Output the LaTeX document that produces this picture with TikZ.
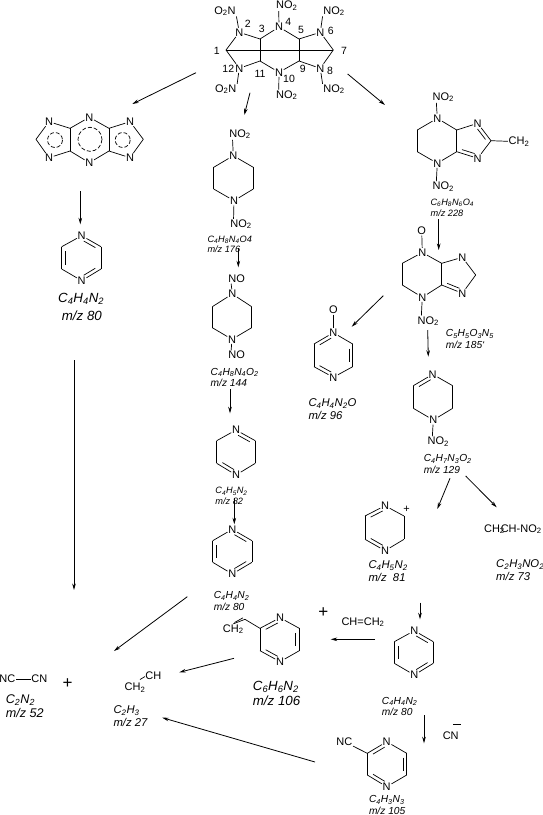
\documentclass[tikz,border=0pt]{standalone}
\usepackage{fontspec}
\setmainfont{Liberation Sans}
\usetikzlibrary{calc,arrows.meta}
\newcommand{\subs}[1]{\textsubscript{#1}}
% inner line of a double bond, on the right of a -> b
\newcommand{\dbond}[2]{\draw[bond] ($(#1)!.2!(#2)!-3.6pt!90:(#2)$) -- ($(#1)!.8!(#2)!-3.6pt!-90:(#1)$);}
\begin{document}
\begin{tikzpicture}[x=1pt,y=-1pt,
    bond/.style={line width=0.7pt},
    arr/.style={line width=0.8pt, -{Stealth[length=6.5pt,width=3.6pt]}},
    atm/.style={font=\fontsize{11}{12}\selectfont, inner sep=0.6pt},
    num/.style={font=\fontsize{10.5}{12}\selectfont, inner sep=0pt},
    fa/.style={font=\fontsize{9.2}{10.6}\selectfont\itshape, align=left, anchor=west, inner sep=0pt},
    fb/.style={font=\fontsize{10.2}{11.4}\selectfont\itshape, align=left, anchor=west, inner sep=0pt},
    fc/.style={font=\fontsize{11.3}{12.6}\selectfont\itshape, align=left, anchor=west, inner sep=0pt},
    fd/.style={font=\fontsize{13.3}{14.6}\selectfont\itshape, align=left, anchor=west, inner sep=0pt},
    ring/.style={line width=0.7pt, dash pattern=on 4pt off 2pt},
    pls/.style={font=\fontsize{17}{17}\selectfont, inner sep=0pt}]
  \useasboundingbox (0,0) rectangle (543,815);
  % cage at the top
  \node[atm] (a2) at (239.3,32.3) {N}; \node[atm] (a4) at (279,27) {N}; \node[atm] (a6) at (320.3,32.3) {N};
  \node[atm] (a12) at (239.3,68.3) {N}; \node[atm] (a10) at (279,72.3) {N}; \node[atm] (a8) at (320.3,68.3) {N};
  \coordinate (a1) at (226,50); \coordinate (a7) at (333.3,50);
  \coordinate (a3) at (260,39); \coordinate (a5) at (299,39);
  \coordinate (a11) at (260,61); \coordinate (a9) at (299,61);
  \node[atm] (ano2) at (225,11) {O\subs{2}N}; \node[atm] (ano4) at (286.7,5.7) {NO\subs{2}};
  \node[atm] (ano6) at (334,11) {NO\subs{2}}; \node[atm] (ano12) at (225.7,89.3) {O\subs{2}N};
  \node[atm] (ano10) at (286.7,95) {NO\subs{2}}; \node[atm] (ano8) at (334,89.3) {NO\subs{2}};
  \foreach \a/\b in {a1/a2,a2/a3,a3/a4,a4/a5,a5/a6,a6/a7,a7/a8,a8/a9,a9/a10,a10/a11,a11/a12,a12/a1,a1/a7,a3/a11,a5/a9}
    \draw[bond] (\a) -- (\b);
  \draw[bond] (a2) -- (ano2.south east); \draw[bond] (a4) -- ([xshift=3.5pt]ano4.south west);
  \draw[bond] (a6) -- (ano6.south west); \draw[bond] (a12) -- (ano12.north east);
  \draw[bond] (a10) -- ([xshift=3.5pt]ano10.north west); \draw[bond] (a8) -- (ano8.north west);
  \node[num] (l1) at (216.7,50.7) {1}; \node[num] (l2) at (247.7,24.3) {2}; \node[num] (l3) at (261.7,29.3) {3};
  \node[num] (l4) at (288.3,21.7) {4}; \node[num] (l5) at (301,30) {5}; \node[num] (l6) at (330.7,30.7) {6};
  \node[num] (l7) at (344,51) {7}; \node[num] (l8) at (330,71) {8}; \node[num] (l9) at (302.7,69) {9};
  \node[num] (l10) at (289,79.3) {10}; \node[num] (l11) at (260,74) {11}; \node[num] (l12) at (228.3,69.3) {12};
  % tricycle on the left
  \node[atm] (b1) at (49,121.7) {N}; \node[atm] (b2) at (49,157.7) {N}; \node[atm] (b3) at (89.3,117.3) {N};
  \node[atm] (b4) at (89.3,162.7) {N}; \node[atm] (b5) at (130,121.7) {N}; \node[atm] (b6) at (130,157.7) {N};
  \coordinate (b7) at (36,139.3); \coordinate (b8) at (70,128.3); \coordinate (b9) at (70,151);
  \coordinate (b10) at (109,128.3); \coordinate (b11) at (109,151); \coordinate (b12) at (143.3,139.3);
  \foreach \a/\b in {b7/b1,b1/b8,b8/b3,b3/b10,b10/b5,b5/b12,b12/b6,b6/b11,b11/b4,b4/b9,b9/b2,b2/b7,b8/b9,b10/b11}
    \draw[bond] (\a) -- (\b);
  \draw[ring] (55,140) circle (7.5);
  \draw[ring] (90,139.3) circle (12);
  \draw[ring] (122.7,140) circle (7.5);
  % pyrazine on the left
  \node[atm] (c1) at (81.7,235.7) {N}; \node[atm] (c2) at (81.7,280.7) {N};
  \coordinate (c3) at (61.7,246.7); \coordinate (c4) at (61.7,269); \coordinate (c5) at (101,246.7); \coordinate (c6) at (101,269);
  \foreach \a/\b in {c1/c5,c5/c6,c6/c2,c2/c4,c4/c3,c3/c1} \draw[bond] (\a) -- (\b);
  \dbond{c1}{c5} \dbond{c6}{c2} \dbond{c4}{c3}
  \node[fd,font=\fontsize{13.3}{17.5}\selectfont\itshape] (fc) at (58,307) {C\subs{4}H\subs{4}N\subs{2}\\\ m/z 80};
  % first piperazine
  \node[atm] (d1) at (233.3,155.7) {N}; \node[atm] (d2) at (234,200.7) {N};
  \coordinate (d3) at (213.7,167.3); \coordinate (d4) at (213.7,189); \coordinate (d5) at (253.3,167.3); \coordinate (d6) at (253.3,189);
  \node[atm] (dno1) at (240,134.3) {NO\subs{2}}; \node[atm] (dno2) at (241,224.3) {NO\subs{2}};
  \foreach \a/\b in {d1/d5,d5/d6,d6/d2,d2/d4,d4/d3,d3/d1} \draw[bond] (\a) -- (\b);
  \draw[bond] (d1) -- ([xshift=4pt]dno1.south west); \draw[bond] (d2) -- ([xshift=4pt]dno2.north west);
  \node[fa] (fd) at (207.3,244.3) {C\subs{4}H\subs{8}N\subs{4}O4\\m/z 176};
  % second piperazine
  \node[atm] (e1) at (232.3,294) {N}; \node[atm] (e2) at (232,339.3) {N};
  \coordinate (e3) at (212.3,306.7); \coordinate (e4) at (212.3,327.7); \coordinate (e5) at (251.7,306.7); \coordinate (e6) at (251.7,327.7);
  \node[atm] (eno1) at (236.7,279) {NO}; \node[atm] (eno2) at (236.7,355) {NO};
  \foreach \a/\b in {e1/e5,e5/e6,e6/e2,e2/e4,e4/e3,e3/e1} \draw[bond] (\a) -- (\b);
  \draw[bond] (e1) -- ([xshift=3.5pt]eno1.south west); \draw[bond] (e2) -- ([xshift=3.5pt]eno2.north west);
  \node[fb] (fe) at (210.5,377.5) {C\subs{4}H\subs{8}N\subs{4}O\subs{2}\\m/z 144};
  % dihydropyrazine, middle column
  \node[atm] (f1) at (236,430) {N}; \node[atm] (f2) at (236,475) {N};
  \coordinate (f3) at (216.7,440.7); \coordinate (f4) at (216.7,463.3); \coordinate (f5) at (255.3,440.7); \coordinate (f6) at (255.3,463.3);
  \foreach \a/\b in {f1/f5,f5/f6,f6/f2,f2/f4,f4/f3,f3/f1} \draw[bond] (\a) -- (\b);
  \dbond{f1}{f5} \dbond{f2}{f4}
  \node[fa] (ff) at (215.2,496) {C\subs{4}H\subs{5}N\subs{2}\\m/z 82};
  % pyrazine, middle column
  \node[atm] (g1) at (232.3,529.3) {N}; \node[atm] (g2) at (232.3,574) {N};
  \coordinate (g3) at (212.7,540.7); \coordinate (g4) at (212.7,562.3); \coordinate (g5) at (252,540.7); \coordinate (g6) at (252,562.3);
  \foreach \a/\b in {g1/g5,g5/g6,g6/g2,g2/g4,g4/g3,g3/g1} \draw[bond] (\a) -- (\b);
  \dbond{g1}{g5} \dbond{g6}{g2} \dbond{g4}{g3}
  \node[fb] (fg) at (213.6,601) {C\subs{4}H\subs{4}N\subs{2}\\m/z 80};
  % bicycle, top right
  \node[atm] (h1) at (437.3,118.3) {N}; \node[atm] (h2) at (437.3,163.3) {N}; \node[atm] (h3) at (477.7,123.3) {N}; \node[atm] (h4) at (477.7,158.3) {N};
  \coordinate (h5) at (417.3,130); \coordinate (h6) at (417.3,151.7); \coordinate (h7) at (456.7,130); \coordinate (h8) at (456.7,151.7); \coordinate (h9) at (491,140.7);
  \node[atm] (hno1) at (443.3,97.3) {NO\subs{2}}; \node[atm] (hno2) at (443.3,186.7) {NO\subs{2}};
  \node[atm] (hch) at (519,141.7) {CH\subs{2}};
  \foreach \a/\b in {h1/h7,h7/h3,h3/h9,h9/h4,h4/h8,h8/h2,h2/h6,h6/h5,h5/h1,h7/h8,h9/hch} \draw[bond] (\a) -- (\b);
  \dbond{h3}{h9} \dbond{h4}{h8}
  \draw[bond] (h1) -- ([xshift=4.5pt]hno1.south west); \draw[bond] (h2) -- ([xshift=4.5pt]hno2.north west);
  \node[fa] (fh) at (430.4,207.7) {C\subs{6}H\subs{8}N\subs{6}O\subs{4}\\m/z 228};
  % second bicycle
  \node[atm] (i0) at (421.7,231) {O};
  \node[atm] (i1) at (422.3,252.5) {N}; \node[atm] (i2) at (422.3,297.3) {N}; \node[atm] (i3) at (462.3,257.3) {N}; \node[atm] (i4) at (462.3,293.3) {N};
  \coordinate (i5) at (402.3,263.3); \coordinate (i6) at (402.3,285); \coordinate (i7) at (441.7,263.3); \coordinate (i8) at (441.7,285); \coordinate (i9) at (475.7,275);
  \node[atm] (ino) at (428.3,321) {NO\subs{2}};
  \foreach \a/\b in {i0/i1,i1/i7,i7/i3,i3/i9,i9/i4,i4/i8,i8/i2,i2/i6,i6/i5,i5/i1,i7/i8} \draw[bond] (\a) -- (\b);
  \dbond{i4}{i8}
  \draw[bond] (i2) -- ([xshift=4.5pt]ino.north west);
  \node[fb] (fi) at (445.7,339) {C\subs{5}H\subs{5}O\subs{3}N\subs{5}\\m/z 185`};
  % pyrazine oxide
  \node[atm] (j0) at (333.3,310) {O};
  \node[atm] (j1) at (333.3,332.7) {N}; \node[atm] (j2) at (333.3,377.3) {N};
  \coordinate (j3) at (314,344); \coordinate (j4) at (314,366.7); \coordinate (j5) at (352.7,344); \coordinate (j6) at (352.7,366.7);
  \foreach \a/\b in {j0/j1,j1/j5,j5/j6,j6/j2,j2/j4,j4/j3,j3/j1} \draw[bond] (\a) -- (\b);
  \dbond{j3}{j1} \dbond{j5}{j6} \dbond{j2}{j4}
  \node[fc] (fj) at (308.3,409) {C\subs{4}H\subs{4}N\subs{2}O\\m/z 96};
  % nitro ring, right column
  \node[atm] (k1) at (432.7,374.3) {N}; \node[atm] (k2) at (433.3,420) {N};
  \coordinate (k3) at (413.3,385.7); \coordinate (k4) at (413.3,408.3); \coordinate (k5) at (452.7,385.7); \coordinate (k6) at (452.7,408.3);
  \node[atm] (kno) at (438.3,441.7) {NO\subs{2}};
  \foreach \a/\b in {k1/k5,k5/k6,k6/k2,k2/k4,k4/k3,k3/k1} \draw[bond] (\a) -- (\b);
  \dbond{k3}{k1}
  \draw[bond] (k2) -- ([xshift=5.5pt]kno.north west);
  \node[fb] (fk) at (423.6,464) {C\subs{4}H\subs{7}N\subs{3}O\subs{2}\\m/z 129};
  % cation
  \node[atm] (m1) at (385,505.7) {N}; \node[atm] (m2) at (385,550.7) {N};
  \coordinate (m3) at (365,516); \coordinate (m4) at (365,539.3); \coordinate (m5) at (404,516); \coordinate (m6) at (404,539.3);
  \foreach \a/\b in {m1/m5,m5/m6,m6/m2,m2/m4,m4/m3,m3/m1} \draw[bond] (\a) -- (\b);
  \dbond{m3}{m1} \dbond{m2}{m4}
  \node[atm] (mpl) at (406.7,509) {+};
  \node[fc] (fm) at (368.3,571) {C\subs{4}H\subs{5}N\subs{2}\\m/z\ \ 81};
  % nitroethene fragment
  \node[atm,anchor=west] (nch) at (483.3,529.3) {CH\subs{2}};
  \node[atm,anchor=west] (nno) at (500,529.3) {CH-NO\subs{2}};
  \node[fc] (fn) at (496,570) {C\subs{2}H\subs{3}NO\subs{2}\\m/z 73};
  % pyrazine, bottom right
  \node[atm] (p1) at (414.3,630.7) {N}; \node[atm] (p2) at (414.3,675) {N};
  \coordinate (p3) at (394.3,641.7); \coordinate (p4) at (394.3,663.3); \coordinate (p5) at (433.3,641.7); \coordinate (p6) at (433.3,663.3);
  \foreach \a/\b in {p1/p5,p5/p6,p6/p2,p2/p4,p4/p3,p3/p1} \draw[bond] (\a) -- (\b);
  \dbond{p1}{p5} \dbond{p6}{p2} \dbond{p4}{p3}
  \node[fb] (fp) at (381.7,706.5) {C\subs{4}H\subs{4}N\subs{2}\\m/z 80};
  % vinyl pyrazine
  \node[atm] (q1) at (280,617.7) {N}; \node[atm] (q2) at (280,661.7) {N};
  \coordinate (q3) at (260,628.3); \coordinate (q4) at (260,650.7); \coordinate (q5) at (299.3,628.3); \coordinate (q6) at (299.3,650.7);
  \coordinate (q7) at (245,619.3); \coordinate (q8) at (234.5,622.5); \coordinate (q9) at (243,617.8);
  \node[atm] (qch) at (233.3,629.3) {CH\subs{2}};
  \foreach \a/\b in {q1/q5,q5/q6,q6/q2,q2/q4,q4/q3,q3/q1,q3/q7,q7/qch.north,q8/q9} \draw[bond] (\a) -- (\b);
  \dbond{q3}{q1} \dbond{q5}{q6} \dbond{q2}{q4}
  \node[fd] (fq) at (252.7,693.5) {C\subs{6}H\subs{6}N\subs{2}\\m/z 106};
  \node[pls] (pl1) at (323.3,612.7) {+};
  \node[atm,anchor=west] (eth) at (340.7,622.3) {CH=CH\subs{2}};
  % cyano pyrazine
  \node[atm] (r1) at (386.7,741.7) {N}; \node[atm] (r2) at (386.7,786.7) {N};
  \coordinate (r3) at (367.3,753.3); \coordinate (r4) at (367.3,775); \coordinate (r5) at (406.7,753.3); \coordinate (r6) at (406.7,775);
  \node[atm] (rnc) at (344.3,741.7) {NC};
  \foreach \a/\b in {r1/r5,r5/r6,r6/r2,r2/r4,r4/r3,r3/r1,r3/rnc} \draw[bond] (\a) -- (\b);
  \dbond{r3}{r1} \dbond{r5}{r6} \dbond{r2}{r4}
  \node[fb] (fr) at (368.8,805) {C\subs{4}H\subs{3}N\subs{3}\\m/z 105};
  \node[atm] (cn) at (450.7,735.7) {CN};
  \coordinate (cn1) at (453.3,724); \coordinate (cn2) at (460.7,724);
  \draw[bond] (cn1) -- (cn2);
  % small fragments
  \node[atm] (s1) at (7.3,679) {NC}; \node[atm] (s2) at (39.3,679) {CN};
  \draw[bond] (s1) -- (s2);
  \node[fd,font=\fontsize{12.6}{14}\selectfont\itshape] (fs) at (5.7,706.3) {C\subs{2}N\subs{2}\\m/z 52};
  \node[pls] (pl2) at (67.7,683.3) {+};
  \node[atm] (t1) at (153.3,676) {CH}; \node[atm] (t2) at (135,687.7) {CH\subs{2}};
  \coordinate (t3) at (140,679.5); \coordinate (t4) at (145,676.5);
  \draw[bond] (t3) -- (t4);
  \node[fc] (ft) at (113.3,716.3) {C\subs{2}H\subs{3}\\m/z 27};
  % arrows
  \foreach \i/\xa/\ya/\xb/\yb in {1/196/72.7/132.3/104, 2/80.3/191/80.3/224.3, 3/74/360/74/590,
      4/250/92.7/244.3/115, 5/238.3/248.3/238.3/267.3, 6/230/389.3/230/413.3, 7/234.3/498/234.3/524.3,
      8/347.7/74/385/105, 9/438.7/219.3/438.7/250, 10/383.3/295.7/351.7/326.7, 11/427.7/330/428.3/356.7,
      12/450/478.3/437.3/509, 13/465.7/476/496.7/507.3, 14/420/602.7/420/619.3, 15/375/639.3/330.7/639.3,
      16/424/715/424/743.3, 17/187.3/596.7/114/651, 18/234/658.3/179.3/672.3, 19/315/762/162.3/717.7} {
    \coordinate (st\i) at (\xa,\ya); \coordinate (en\i) at (\xb,\yb);
    \draw[arr] (st\i) -- (en\i);
  }
\end{tikzpicture}
\end{document}
